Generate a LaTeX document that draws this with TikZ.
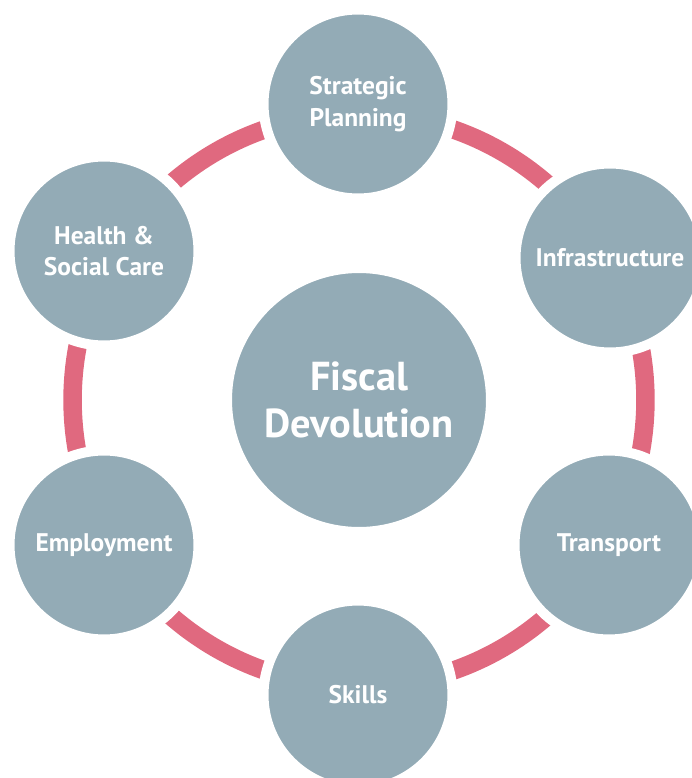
\documentclass[tikz,border=0pt]{standalone}
\usepackage{fontspec}
\setmainfont{PT Sans}
\usepackage{tikz}
\usetikzlibrary{positioning}

\definecolor{bubblegrey}{HTML}{93ABB6}
\definecolor{ringpink}{HTML}{E0697F}

\begin{document}
\begin{tikzpicture}[
    x=0.02cm, y=-0.02cm,
    bubble/.style={circle, fill=bubblegrey, draw=white, line width=0.2cm, minimum size=3.78cm, inner sep=0pt, align=center, text=white, font=\bfseries\fontsize{14.5}{18}\selectfont},
    hub/.style={bubble, minimum size=5.28cm, font=\bfseries\fontsize{23}{27}\selectfont},
    ring/.style={draw=ringpink, line width=0.37cm}
]
  \useasboundingbox (0,0) rectangle (691,778);

  % Centre topic
  \coordinate (mid) at (359,400);

  % Pink ring behind everything
  \draw[ring] (mid) circle [radius=5.73cm];

  \node[hub] (fiscal) at (mid) {Fiscal\\Devolution};

  % Outer topics, clockwise from the top
  \node[bubble] (strat)  at (358,104) {Strategic\\Planning};
  \node[bubble] (infra)  at (610,258) {Infrastructure};
  \node[bubble] (transp) at (609,545) {Transport};
  \node[bubble] (skills) at (358,695) {Skills};
  \node[bubble] (employ) at (104,545) {Employment};
  \node[bubble] (health) at (104,251) {Health \&\\Social Care};

\end{tikzpicture}
\end{document}
